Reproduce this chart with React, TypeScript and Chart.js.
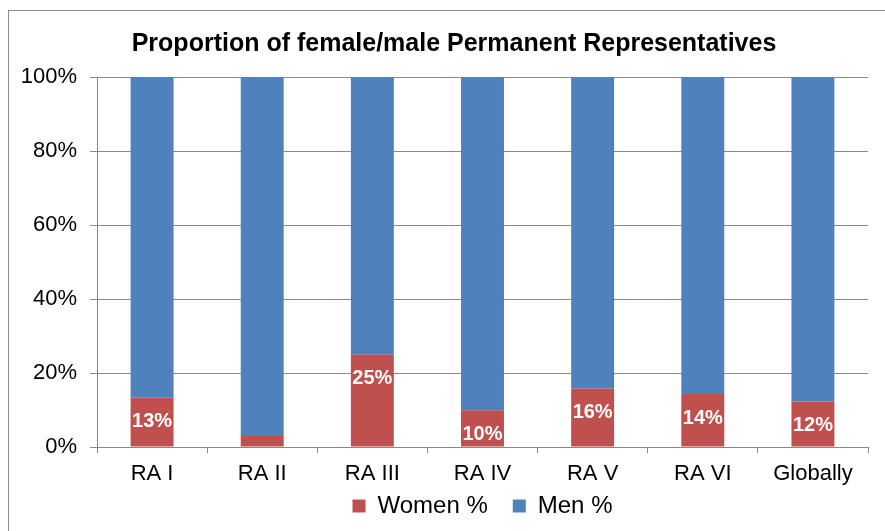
import React, { useEffect, useRef } from "react";
import { Chart, registerables } from "chart.js";

Chart.register(...registerables);

const chartTitle = "Proportion of female/male Permanent Representatives";
const categories = ["RA I", "RA II", "RA III", "RA IV", "RA V", "RA VI", "Globally"];
const seriesNames = ["Women %", "Men %"];
const womenPct = [13.3, 3.0, 24.9, 9.9, 15.8, 14.3, 12.3];
const menPct = [86.7, 97.0, 75.1, 90.1, 84.2, 85.7, 87.7];
const yMin = 0;
const yMax = 100;
const yStep = 20;

const FONT = "'Liberation Sans', Arial, Helvetica, sans-serif";
const GRID = "#898989";

const womenLabelPlugin = {
  id: "womenLabels",
  afterLayout(chart: any) {
    // widen the label clip areas of the axes so tick labels are not cut
    const y = chart.scales.y;
    const x = chart.scales.x;
    if (y) y.left = 0;
    if (x) x.bottom = chart.height;
  },
  afterDatasetsDraw(chart: any) {
    const meta = chart.getDatasetMeta(0);
    const ctx = chart.ctx;
    ctx.save();
    ctx.font = `bold 20px ${FONT}`;
    ctx.fillStyle = "#ffffff";
    ctx.textAlign = "center";
    ctx.textBaseline = "middle";
    meta.data.forEach((bar: any, i: number) => {
      const v = womenPct[i];
      if (v < 5) return;
      ctx.fillText(Math.round(v) + "%", bar.x, bar.y + 24);
    });
    ctx.restore();
  },
};

export default function App() {
  const ref = useRef<HTMLCanvasElement | null>(null);
  useEffect(() => {
    if (!ref.current) return;
    const chart = new Chart(ref.current, {
      type: "bar",
      data: {
        labels: categories,
        datasets: [
          { label: seriesNames[0], data: womenPct, backgroundColor: "#C0504D", borderWidth: 0 },
          { label: seriesNames[1], data: menPct, backgroundColor: "#4F81BD", borderWidth: 0 },
        ],
      },
      options: {
        responsive: false,
        animation: false,
        devicePixelRatio: 1,
        layout: { padding: { left: 40, right: 17, top: 0, bottom: 3 } },
        datasets: { bar: { categoryPercentage: 1, barPercentage: 0.39 } } as any,
        plugins: {
          title: {
            display: true,
            text: chartTitle,
            color: "#000",
            font: { family: FONT, size: 25, weight: "bold", lineHeight: 1.2 },
            padding: { top: 29, bottom: 18 },
          },
          legend: {
            position: "bottom",
            fullSize: false,
            labels: {
              color: "#000",
              font: { family: FONT, size: 24 },
              boxWidth: 13,
              boxHeight: 13,
              padding: 25,
            },
          },
          tooltip: { enabled: false },
        },
        scales: {
          x: {
            stacked: true,
            grid: { drawOnChartArea: false, drawTicks: true, tickLength: 6, color: GRID, offset: true },
            border: { color: GRID },
            ticks: { color: "#000", font: { family: FONT, size: 22 }, padding: 8, maxRotation: 0 },
            afterFit: (s: any) => { s.height = 22; },
          },
          y: {
            stacked: true,
            min: yMin,
            max: yMax,
            grid: { color: GRID, tickLength: 7, drawTicks: true },
            border: { color: GRID },
            ticks: {
              stepSize: yStep,
              color: "#000",
              font: { family: FONT, size: 22 },
              padding: 13,
              callback: (v: any) => v + "%",
            },
            afterFit: (s: any) => { s.width = 57; },
          },
        },
      },
      plugins: [womenLabelPlugin],
    });
    return () => chart.destroy();
  }, []);

  return (
    <div style={{ position: "absolute", left: 0, top: 0, width: 885, height: 531, overflow: "hidden", background: "#fff" }}>
      <div
        style={{
          position: "absolute",
          left: 8,
          top: 10,
          width: 877,
          height: 521,
          borderLeft: "1px solid #8c8c8c",
          borderTop: "1px solid #8c8c8c",
          boxSizing: "border-box",
        }}
      />
      <canvas ref={ref} width={885} height={531} style={{ position: "absolute", left: 0, top: 0 }} />
    </div>
  );
}
